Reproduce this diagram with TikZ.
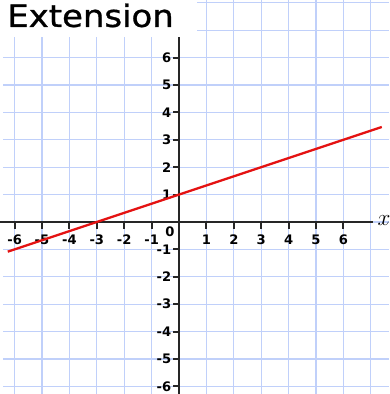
\documentclass[tikz,border=0pt]{standalone}
\usepackage{fontspec}
\setmainfont{DejaVu Sans}
\newfontfamily\titulofont[FakeStretch=1.1,FakeBold=1]{DejaVu Sans}
\usepackage{tikz}
\definecolor{gradeazul}{RGB}{192,208,250}
\definecolor{vermelho}{RGB}{228,18,18}

\begin{document}
\begin{tikzpicture}[x=0.5cm,y=0.5cm,
    grade/.style={gradeazul, line width=0.7pt},
    eixo/.style={black!85, line width=1pt},
    rotulo/.style={font=\fontsize{6.8}{8}\selectfont\bfseries, inner sep=1pt}]
    \useasboundingbox (-6.533,-6.277) rectangle (7.664,8.102);

    % Grade
    \foreach \i in {-6,...,7}
        \draw[grade] (\i,-6.277) -- (\i,8.102);
    \foreach \j in {-6,...,8}
        \draw[grade] (-6.42,\j) -- (7.664,\j);
    \fill[white] (-6.533,6.75) rectangle (0.66,8.102);

    % Titulo
    \node[anchor=base west, inner sep=0pt, font=\titulofont\fontsize{16}{18}\selectfont] (titulo) at (-6.28,7.12) {Extension};

    % Eixos
    \draw[eixo] (-6.533,0) -- (7.07,0);
    \draw[eixo] (0,-6.277) -- (0,6.75);
    \node[font=\large, inner sep=0pt] (rotx) at (7.48,0.05) {$x$};

    % Marcacoes
    \foreach \i in {-6,...,-1,1,2,...,6} {
        \draw[eixo] (\i,0) -- (\i,-0.24);
        \node[rotulo] (mx\i) at (\i,-0.66) {\i};
    }
    \foreach \j in {-6,...,-1,1,2,...,6} {
        \draw[eixo] (0,\j) -- (-0.22,\j);
        \node[rotulo, anchor=east] (my\j) at (-0.2,\j) {\j};
    }
    \node[rotulo] (origem) at (-0.33,-0.36) {0};

    % Reta y = x/3 + 1
    \draw[vermelho, line width=1.2pt] (-6.25,-1.083) -- (7.4,3.467);
\end{tikzpicture}
\end{document}
